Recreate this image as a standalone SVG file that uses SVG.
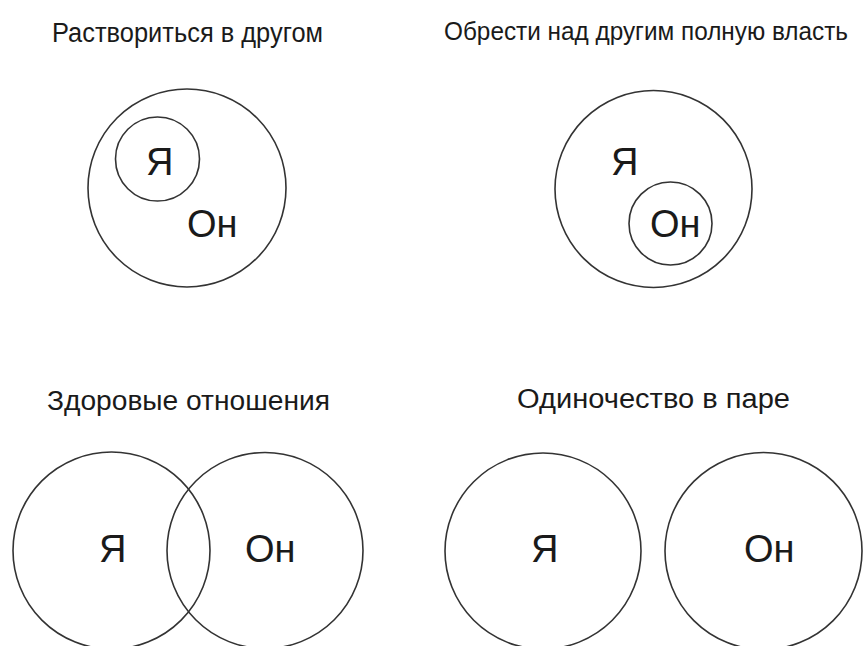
<svg xmlns="http://www.w3.org/2000/svg" width="864" height="646" viewBox="0 0 864 646">
<style>
.c{fill:none;stroke:#333;stroke-width:1.6}
.t{font-family:"Liberation Sans","DejaVu Sans",sans-serif;font-size:27px;fill:#1a1a1a}
.l{font-family:"Liberation Sans","DejaVu Sans",sans-serif;font-size:38px;fill:#1a1a1a}
</style>
<rect width="864" height="646" fill="#fff"/>
<g id="dissolve">
<text class="t" x="52" y="42" textLength="271" lengthAdjust="spacingAndGlyphs">Раствориться в другом</text>
<circle class="c" cx="187" cy="188" r="99"/>
<circle class="c" cx="157.5" cy="159" r="42"/>
<text class="l" x="146" y="175">Я</text>
<text class="l" x="187" y="237">Он</text>
</g>
<g id="power">
<text class="t" x="444" y="40" style="font-size:25px" textLength="404" lengthAdjust="spacingAndGlyphs">Обрести над другим полную власть</text>
<circle class="c" cx="653.5" cy="189" r="98.5"/>
<circle class="c" cx="670.5" cy="223.5" r="41.5"/>
<text class="l" x="611" y="175">Я</text>
<text class="l" x="650" y="237">Он</text>
</g>
<g id="healthy">
<text class="t" x="47" y="410" textLength="283" lengthAdjust="spacingAndGlyphs">Здоровые отношения</text>
<circle class="c" cx="111.5" cy="550.5" r="98.5"/>
<circle class="c" cx="265" cy="550.5" r="98"/>
<text class="l" x="99" y="562">Я</text>
<text class="l" x="245" y="562">Он</text>
</g>
<g id="lonely">
<text class="t" x="517" y="408" textLength="273" lengthAdjust="spacingAndGlyphs">Одиночество в паре</text>
<circle class="c" cx="543" cy="551" r="98"/>
<circle class="c" cx="763.5" cy="551" r="98.5"/>
<text class="l" x="531" y="562">Я</text>
<text class="l" x="744" y="562">Он</text>
</g>
<g id="connectors"></g>
</svg>
